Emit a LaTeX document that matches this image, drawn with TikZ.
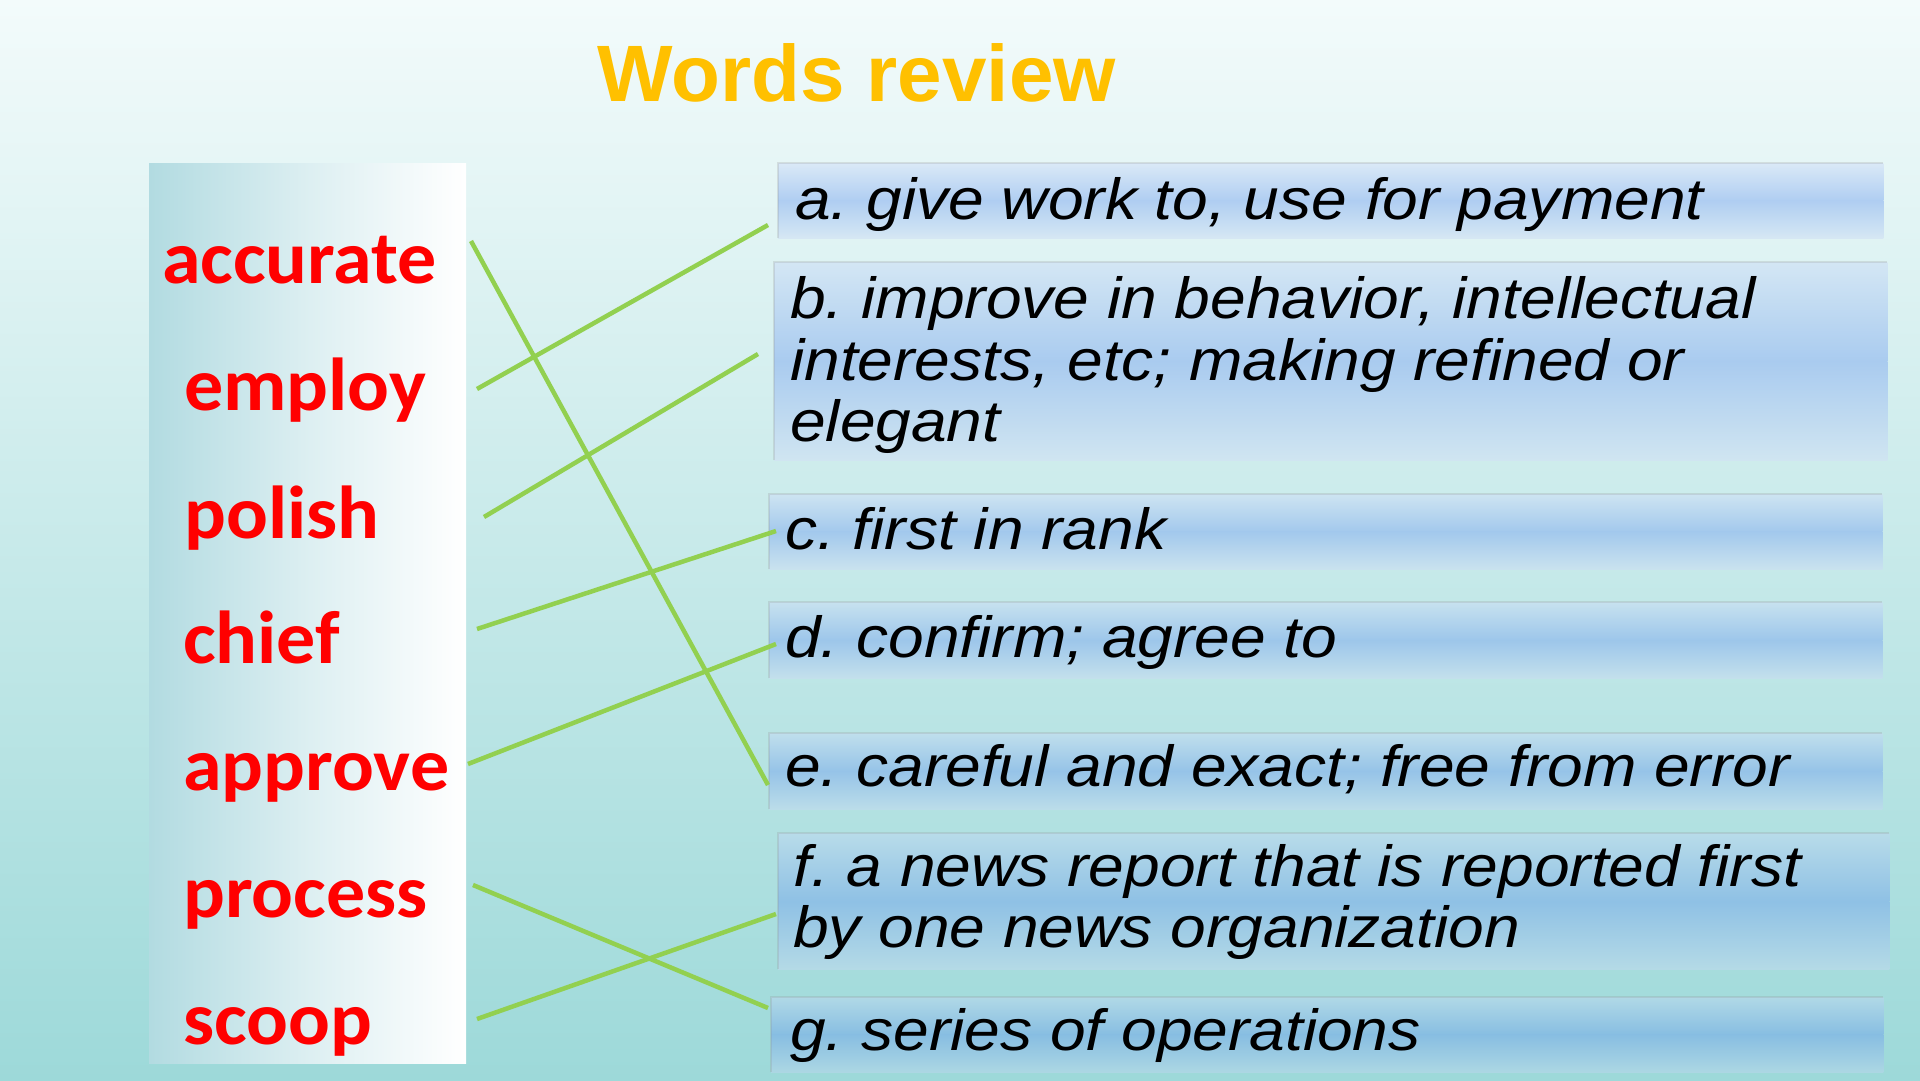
\documentclass[tikz,border=0pt]{standalone}
\usepackage{fontspec}
\setmainfont{Liberation Sans}
\newfontfamily\wordfont[FakeStretch=1.04]{Carlito}
\newfontfamily\deffont[FakeStretch=1.105]{Liberation Sans}
\definecolor{bgtop}{RGB}{243,251,251}
\definecolor{bgmid}{RGB}{208,237,237}
\definecolor{bgbot}{RGB}{157,217,217}
\definecolor{titlegold}{RGB}{255,192,0}
\definecolor{wordred}{RGB}{255,0,0}
\definecolor{panelL}{RGB}{178,219,225}
\definecolor{linegreen}{RGB}{146,208,80}
\definecolor{boxtop}{RGB}{200,214,248}
\definecolor{boxmid}{RGB}{100,150,236}
\definecolor{boxbot}{RGB}{190,210,240}
\colorlet{bgA}{bgmid!37!bgtop}
\colorlet{bgB}{bgmid!67!bgtop}
\colorlet{bgC}{bgmid!98!bgtop}
\colorlet{bgD}{bgbot!19!bgmid}
\colorlet{bgE}{bgbot!43!bgmid}
\colorlet{bgF}{bgbot!67!bgmid}
\colorlet{bgG}{bgbot!92!bgmid}
\tikzset{
  word/.style={anchor=base west, inner sep=0, text=wordred,
    font=\wordfont\bfseries\fontsize{75}{80}\selectfont},
  deftext/.style={anchor=base west, inner sep=0, text=black,
    font=\deffont\itshape\fontsize{58}{61.5}\selectfont},
  defbox/.style={anchor=north west, inner sep=0, draw=none},
  boxedge/.style={draw=black!45, draw opacity=0.22, line width=1.5pt},
  link/.style={draw=linegreen, line width=4.5pt},
}
\begin{document}
\frenchspacing
\begin{tikzpicture}[x=1pt,y=-1pt]
\useasboundingbox (0,0) rectangle (1920,1080);
\shade[top color=bgtop, middle color=bgmid, bottom color=bgbot] (0,0) rectangle (1920,1080);

% title
\node[anchor=base west, inner sep=0, text=titlegold,
  font=\bfseries\fontsize{80}{90}\selectfont] (title) at (597,101) {Words review};

% left panel
\node[anchor=north west, inner sep=0, minimum width=317pt, minimum height=900pt,
  left color=panelL, right color=white, middle color=panelL!45!white] (panel) at (149,163) {};

% words
\node[word] (w1) at (162,283) {accurate};
\node[word] (w2) at (184,410) {employ};
\node[word] (w3) at (184,538) {polish};
\node[word] (w4) at (183,663) {chief};
\node[word] (w5) at (183,790) {approve};
\node[word] (w6) at (183,917) {process};
\node[word] (w7) at (183,1044) {scoop};

% definition boxes
\node[defbox, minimum width=1105pt, minimum height=75pt] (boxA) at (778,163) {};
\node[defbox, minimum width=1113pt, minimum height=198pt] (boxB) at (774,262) {};
\node[defbox, minimum width=1113pt, minimum height=75pt] (boxC) at (769,494) {};
\node[defbox, minimum width=1113pt, minimum height=76pt] (boxD) at (769,602) {};
\node[defbox, minimum width=1113pt, minimum height=76pt] (boxE) at (769,733) {};
\node[defbox, minimum width=1111pt, minimum height=136pt] (boxF) at (778,833) {};
\node[defbox, minimum width=1112pt, minimum height=75pt] (boxG) at (771,997) {};
\foreach \b/\c in {boxA/bgA,boxB/bgB,boxC/bgC,boxD/bgD,boxE/bgE,boxF/bgF,boxG/bgG}{
  \shade[top color=boxtop!40!\c, bottom color=boxmid!42!\c] (\b.north west) rectangle (\b.east);
  \shade[top color=boxmid!42!\c, bottom color=boxbot!40!\c] (\b.west) rectangle (\b.south east);
  \draw[boxedge] (\b.south west) -- (\b.north west) -- (\b.north east);
}

% definitions
\node[deftext] (da) at (795,219) {a. give work to, use for payment};
\node[deftext] (db1) at (790,318) {b. improve in behavior, intellectual};
\node[deftext] (db2) at (790,380) {interests, etc; making refined or};
\node[deftext] (db3) at (790,441) {elegant};
\node[deftext] (dc) at (785,549) {c. first in rank};
\node[deftext] (dd) at (785,657) {d. confirm; agree to};
\node[deftext] (de) at (785,786) {e. careful and exact; free from error};
\node[deftext] (df1) at (793,886) {f. a news report that is reported first};
\node[deftext] (df2) at (793,947) {by one news organization};
\node[deftext] (dg) at (790,1050) {g. series of operations};

% connector ends
\coordinate (s1) at (471,241);  \coordinate (t1) at (768,785);
\coordinate (s2) at (477,389);  \coordinate (t2) at (768,225);
\coordinate (s3) at (484,517);  \coordinate (t3) at (758,354);
\coordinate (s4) at (477,629);  \coordinate (t4) at (776,531);
\coordinate (s5) at (468,764);  \coordinate (t5) at (776,644);
\coordinate (s6) at (473,885);  \coordinate (t6) at (768,1008);
\coordinate (s7) at (477,1019); \coordinate (t7) at (776,914);

\draw[link] (s1) -- (t1);
\draw[link] (s2) -- (t2);
\draw[link] (s3) -- (t3);
\draw[link] (s4) -- (t4);
\draw[link] (s5) -- (t5);
\draw[link] (s6) -- (t6);
\draw[link] (s7) -- (t7);
\end{tikzpicture}
\end{document}
